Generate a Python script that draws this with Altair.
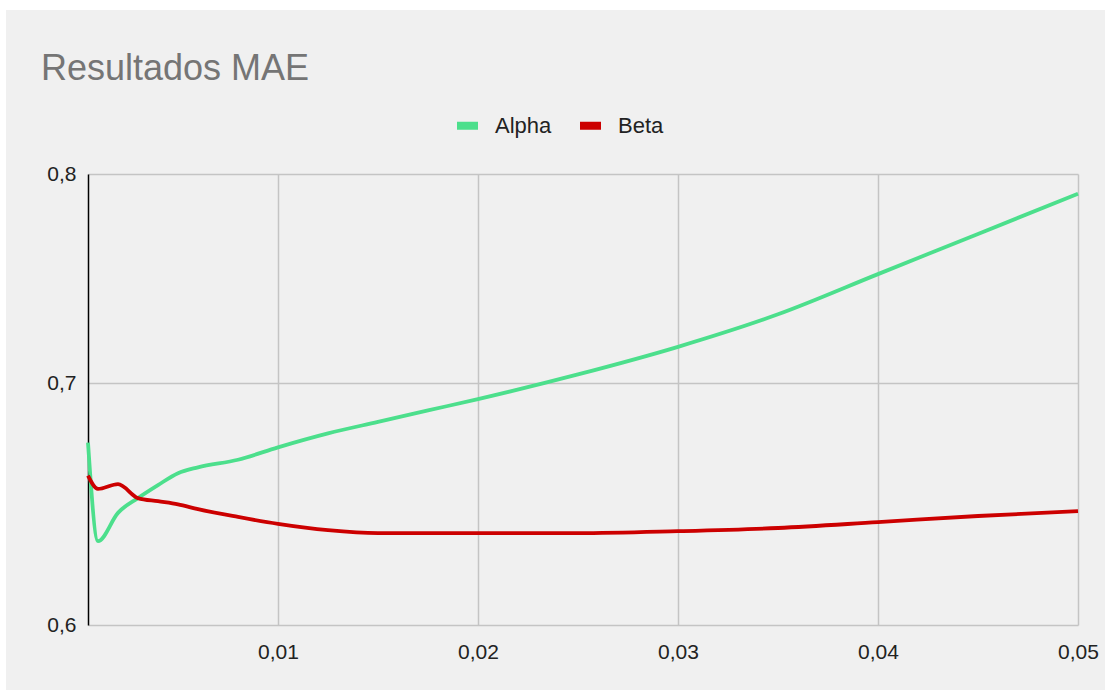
import altair as alt
import pandas as pd

x_vals = [0.0005, 0.001, 0.002, 0.003, 0.004, 0.005, 0.006, 0.008, 0.01,
          0.0125, 0.015, 0.0175, 0.02, 0.025, 0.03, 0.035, 0.04, 0.045, 0.05]
alpha = [0.674, 0.633, 0.6445, 0.6506, 0.656, 0.661, 0.6635, 0.6667, 0.672,
         0.678, 0.683, 0.688, 0.693, 0.704, 0.7165, 0.7315, 0.7505, 0.770, 0.790]
beta = [0.660, 0.6544, 0.6564, 0.6506, 0.6493, 0.648, 0.646, 0.6428, 0.640,
        0.6374, 0.6362, 0.6362, 0.6362, 0.6362, 0.637, 0.6383, 0.6407, 0.6432, 0.6452]
series = ["Alpha", "Beta"]
colors = ["#4cdf8c", "#cc0000"]
y_ticks = [0.6, 0.7, 0.8]
x_ticks = [0.01, 0.02, 0.03, 0.04, 0.05]
title_text = "Resultados MAE"

rows = []
for name, vals in zip(series, [alpha, beta]):
    for xv, yv in zip(x_vals, vals):
        rows.append({"x": xv, "y": yv, "serie": name})
df = pd.DataFrame(rows)

FONT = "Liberation Sans"

lines = alt.Chart(df).mark_line(strokeWidth=3.8, interpolate="monotone").encode(
    x=alt.X("x:Q",
            scale=alt.Scale(domain=[0.0005, 0.05], nice=False, zero=False),
            axis=alt.Axis(title=None, values=x_ticks, domain=False, ticks=False,
                          labelPadding=16, labelFontSize=21, labelColor="#222222",
                          labelFont=FONT, gridColor="#c4c4c4", gridWidth=1.5,
                          labelFlush=False, labelOverlap=False,
                          labelExpr="replace(format(datum.value, '.2f'), '.', ',')")),
    y=alt.Y("y:Q",
            scale=alt.Scale(type="log", domain=[0.6, 0.8], nice=False, zero=False),
            axis=alt.Axis(title=None, values=y_ticks, domain=True, domainColor="#000000",
                          domainWidth=1.5, ticks=False, labelPadding=12,
                          labelFontSize=21, labelColor="#222222", labelFont=FONT,
                          gridColor="#c4c4c4", gridWidth=1.5,
                          labelFlush=False, labelOverlap=False,
                          labelExpr="replace(format(datum.value, '.1f'), '.', ',')")),
    color=alt.Color("serie:N",
                    scale=alt.Scale(domain=series, range=colors),
                    legend=alt.Legend(title=None, orient="none", direction="horizontal",
                                      legendX=365, legendY=-63, padding=0,
                                      symbolType="stroke", symbolSize=441,
                                      symbolStrokeWidth=8, labelOffset=13,
                                      columnPadding=12, labelFontSize=22,
                                      labelFont=FONT, labelColor="#222222")),
)

one = alt.Data(values=[{"a": 1}])
strip_left = alt.Chart(one).mark_rect(color="white", clip=False).encode(
    x=alt.value(-88), x2=alt.value(-82), y=alt.value(-174), y2=alt.value(516))
strip_top = alt.Chart(one).mark_rect(color="white", clip=False).encode(
    x=alt.value(-88), x2=alt.value(1017), y=alt.value(-174), y2=alt.value(-164))
title = alt.Chart(one).mark_text(
    align="left", baseline="alphabetic", fontSize=36, font=FONT,
    color="#757575", clip=False
).encode(x=alt.value(-47), y=alt.value(-94), text=alt.value(title_text))

chart = alt.layer(strip_left, strip_top, title, lines).properties(
    width=990, height=451,
    autosize=alt.AutoSizeParams(type="none"),
    padding={"left": 88, "top": 174, "right": 27, "bottom": 65},
    background="#f0f0f0",
).configure_view(stroke=None)

chart.save("out.html", embed_options={"renderer": "svg", "actions": False})
